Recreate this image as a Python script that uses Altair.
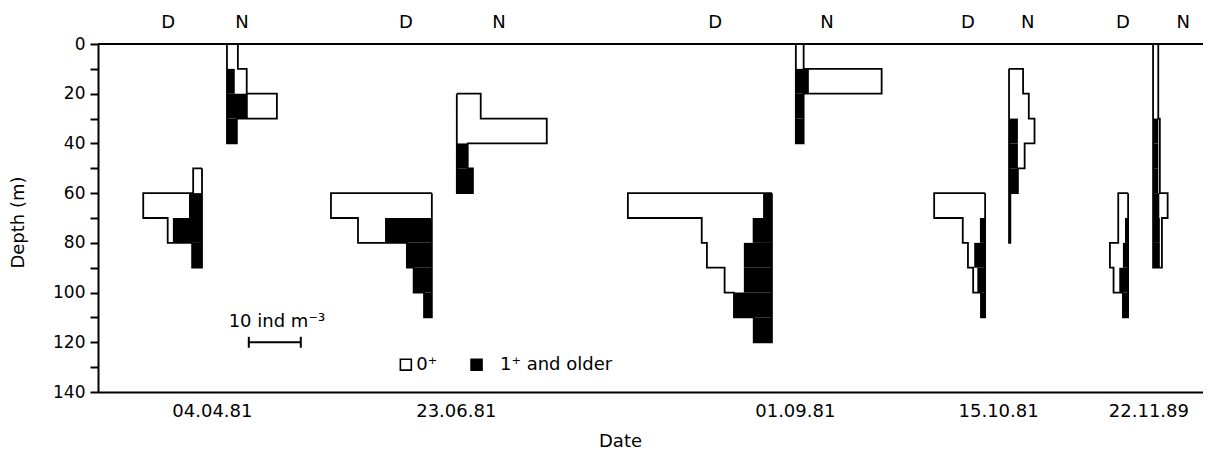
import altair as alt
import pandas as pd

FONT = "DejaVu Sans"

# ---- categories / positions (x in ind m-3 units) ----
DATES = ["04.04.81", "23.06.81", "01.09.81", "15.10.81", "22.11.89"]
DATE_LABEL_X = [21.9, 68.8, 134.0, 173.1, 202.0]
ANCHOR_D = [20.0, 64.2, 129.6, 170.6, 198.1]
ANCHOR_N = [24.8, 69.0, 134.2, 175.2, 202.9]
LABEL_D_X = [13.5, 59.2, 118.7, 167.3, 197.1]
LABEL_N_X = [27.7, 77.1, 140.2, 178.8, 208.7]
XMAX = 212.5

# ---- profiles: top of each 10-m layer, 0+ and 1+ densities (ind m-3) ----
D0404_depth = [50, 60, 70, 80]
D0404_age0 = [1.7, 8.8, 1.0, 0.0]
D0404_age1 = [0.0, 2.5, 5.6, 1.9]
N0404_depth = [0, 10, 20, 30]
N0404_age0 = [2.1, 2.3, 5.6, 0.0]
N0404_age1 = [0.0, 1.5, 4.0, 1.9]

D2306_depth = [60, 70, 80, 90, 100]
D2306_age0 = [19.4, 5.2, 0.0, 0.0, 0.0]
D2306_age1 = [0.0, 9.0, 4.8, 3.5, 1.5]
N2306_depth = [20, 30, 40, 50]
N2306_age0 = [4.6, 17.3, 0.0, 0.0]
N2306_age1 = [0.0, 0.0, 2.1, 3.1]

D0109_depth = [60, 70, 80, 90, 100, 110]
D0109_age0 = [26.0, 9.8, 7.1, 3.7, 0.0, 0.0]
D0109_age1 = [1.7, 3.7, 5.4, 5.4, 7.3, 3.5]
N0109_depth = [0, 10, 20, 30]
N0109_age0 = [1.5, 14.0, 0.0, 0.0]
N0109_age1 = [0.0, 2.5, 1.5, 1.5]

D1510_depth = [60, 70, 80, 90, 100]
D1510_age0 = [9.8, 3.3, 1.2, 0.8, 0.0]
D1510_age1 = [0.0, 1.0, 2.1, 1.5, 0.8]
N1510_depth = [10, 20, 30, 40, 50, 60, 70]
N1510_age0 = [2.7, 3.8, 3.2, 1.3, 0.0, 0.0, 0.0]
N1510_age1 = [0.0, 0.0, 1.7, 1.7, 1.7, 0.25, 0.25]

D2211_depth = [60, 70, 80, 90, 100]
D2211_age0 = [1.9, 1.3, 2.5, 1.1, 0.0]
D2211_age1 = [0.0, 0.6, 1.0, 1.7, 1.0]
N2211_depth = [0, 10, 20, 30, 40, 50, 60, 70, 80]
N2211_age0 = [1.0, 1.0, 1.0, 0.3, 0.3, 0.3, 1.6, 0.4, 0.4]
N2211_age1 = [0.0, 0.0, 0.0, 1.0, 1.0, 1.0, 1.2, 1.3, 1.3]

PROFILES = [
    ("0404D", ANCHOR_D[0], -1, D0404_depth, D0404_age0, D0404_age1),
    ("0404N", ANCHOR_N[0], 1, N0404_depth, N0404_age0, N0404_age1),
    ("2306D", ANCHOR_D[1], -1, D2306_depth, D2306_age0, D2306_age1),
    ("2306N", ANCHOR_N[1], 1, N2306_depth, N2306_age0, N2306_age1),
    ("0109D", ANCHOR_D[2], -1, D0109_depth, D0109_age0, D0109_age1),
    ("0109N", ANCHOR_N[2], 1, N0109_depth, N0109_age0, N0109_age1),
    ("1510D", ANCHOR_D[3], -1, D1510_depth, D1510_age0, D1510_age1),
    ("1510N", ANCHOR_N[3], 1, N1510_depth, N1510_age0, N1510_age1),
    ("2211D", ANCHOR_D[4], -1, D2211_depth, D2211_age0, D2211_age1),
    ("2211N", ANCHOR_N[4], 1, N2211_depth, N2211_age0, N2211_age1),
]
LAYER = 10

rect_rows, line_rows = [], []
for name, a, s, dep, z0, z1 in PROFILES:
    for d, v0, v1 in zip(dep, z0, z1):
        if v1 > 0:
            rect_rows.append({"p": name, "cls": "1+", "x": a, "x2": a + s * v1, "y": d, "y2": d + LAYER})
        if v0 > 0:
            rect_rows.append({"p": name, "cls": "0+", "x": a + s * v1, "x2": a + s * (v1 + v0), "y": d, "y2": d + LAYER})
    pts = [(a, dep[0])]
    for d, v0, v1 in zip(dep, z0, z1):
        pts += [(a + s * (v0 + v1), d), (a + s * (v0 + v1), d + LAYER)]
    pts += [(a, dep[-1] + LAYER), (a, dep[0])]
    for i, (px, py) in enumerate(pts):
        line_rows.append({"p": name, "o": i, "x": px, "y": py})

rects = pd.DataFrame(rect_rows)
outline = pd.DataFrame(line_rows)

xscale = alt.Scale(domain=[0, XMAX], nice=False, zero=False)
yscale = alt.Scale(domain=[0, 140], reverse=True, nice=False, zero=False)

label_expr = "".join(f"datum.value == {v} ? '{d}' : " for v, d in zip(DATE_LABEL_X, DATES)) + "''"
xaxis = alt.Axis(values=DATE_LABEL_X, labelExpr=label_expr, ticks=False, grid=False,
                 domainColor="black", domainWidth=2, labelFont=FONT, labelFontSize=18,
                 labelColor="black", labelPadding=10, labelFlush=False, labelOverlap=False,
                 title="Date", titleFont=FONT, titleFontSize=18, titleFontWeight="normal",
                 titleColor="black", titleX=522, titleY=49, titleBaseline="middle",
                 titleAlign="center")
yaxis = alt.Axis(values=list(range(0, 141, 10)),
                 labelExpr="datum.value % 20 == 0 ? datum.label : ''",
                 tickSize=8, tickWidth=2, tickColor="black", grid=False,
                 domainColor="black", domainWidth=2, labelFont=FONT, labelFontSize=17,
                 labelColor="black", labelPadding=5, labelFlush=False,
                 title="Depth (m)", titleFont=FONT, titleFontSize=18, titleFontWeight="normal",
                 titleColor="black", titleX=-80, titleY=178, titleAngle=-90,
                 titleBaseline="middle", titleAlign="center")

def X(f="x"):
    return alt.X(f"{f}:Q", scale=xscale, axis=xaxis)

def Y(f="y"):
    return alt.Y(f"{f}:Q", scale=yscale, axis=yaxis)

white = alt.Chart(rects).transform_filter("datum.cls == '0+'").mark_rect(fill="white", strokeWidth=0).encode(
    x=X(), x2="x2:Q", y=Y(), y2="y2:Q")
black = alt.Chart(rects).transform_filter("datum.cls == '1+'").mark_rect(fill="black", strokeWidth=0).encode(
    x=X(), x2="x2:Q", y=Y(), y2="y2:Q")
lines = alt.Chart(outline).mark_line(color="black", strokeWidth=1.8, strokeJoin="miter").encode(
    x=X(), y=Y(), order="o:Q", detail="p:N")

# top line at 0 m
top_df = pd.DataFrame({"y": [0]})
top = alt.Chart(top_df).mark_rule(color="black", strokeWidth=2).encode(y=Y())

# D / N labels above the plot
dn_df = pd.DataFrame({"x": LABEL_D_X + LABEL_N_X,
                      "t": ["D"] * len(LABEL_D_X) + ["N"] * len(LABEL_N_X),
                      "y": [-6.5] * (len(LABEL_D_X) + len(LABEL_N_X))})
dn = alt.Chart(dn_df).mark_text(font=FONT, fontSize=18, color="black", align="center",
                                baseline="alphabetic").encode(x=X(), y=Y(), text="t:N")

# scale bar: 10 ind m-3
SCALE_X0, SCALE_LEN, SCALE_DEPTH = 29.0, 10.0, 120.0
bar_df = pd.DataFrame({"x": [SCALE_X0], "x2": [SCALE_X0 + SCALE_LEN], "y": [SCALE_DEPTH]})
bar = alt.Chart(bar_df).mark_rule(color="black", strokeWidth=2).encode(x=X(), x2="x2:Q", y=Y())
cap_df = pd.DataFrame({"x": [SCALE_X0, SCALE_X0 + SCALE_LEN], "y": [SCALE_DEPTH - 2.2] * 2,
                       "y2": [SCALE_DEPTH + 2.2] * 2})
caps = alt.Chart(cap_df).mark_rule(color="black", strokeWidth=2).encode(x=X(), y=Y(), y2="y2:Q")
sc_txt_df = pd.DataFrame({"x": [SCALE_X0 + SCALE_LEN / 2 + 0.4], "y": [114.0], "t": ["10 ind m⁻³"]})
sc_txt = alt.Chart(sc_txt_df).mark_text(font=FONT, fontSize=18, color="black", align="center",
                                        baseline="alphabetic").encode(x=X(), y=Y(), text="t:N")

# legend
LEG_Y = 129.0
leg_sq_df = pd.DataFrame({"x": [59.2, 72.8], "y": [LEG_Y, LEG_Y], "cls": ["0+", "1+"]})
leg_sq = alt.Chart(leg_sq_df).mark_square(size=120, strokeWidth=1.6, stroke="black", opacity=1).encode(
    x=X(), y=Y(),
    fill=alt.Fill("cls:N", scale=alt.Scale(domain=["0+", "1+"], range=["white", "black"]), legend=None))
leg_txt_df = pd.DataFrame({"x": [61.2, 77.3], "y": [LEG_Y, LEG_Y], "t": ["0⁺", "1⁺ and older"]})
leg_txt = alt.Chart(leg_txt_df).mark_text(font=FONT, fontSize=18, color="black", align="left",
                                          baseline="middle").encode(x=X(), y=Y(), text="t:N")

chart = alt.layer(white, black, lines, top, dn, bar, caps, sc_txt, leg_sq, leg_txt).properties(
    width=1105, height=348,
    padding={"left": 90, "top": 36, "right": 0, "bottom": 64},
    autosize=alt.AutoSizeParams(type="none"),
).configure_view(stroke=None).configure(background="white")

chart.save("out.html", embed_options={"renderer": "svg", "actions": False})
